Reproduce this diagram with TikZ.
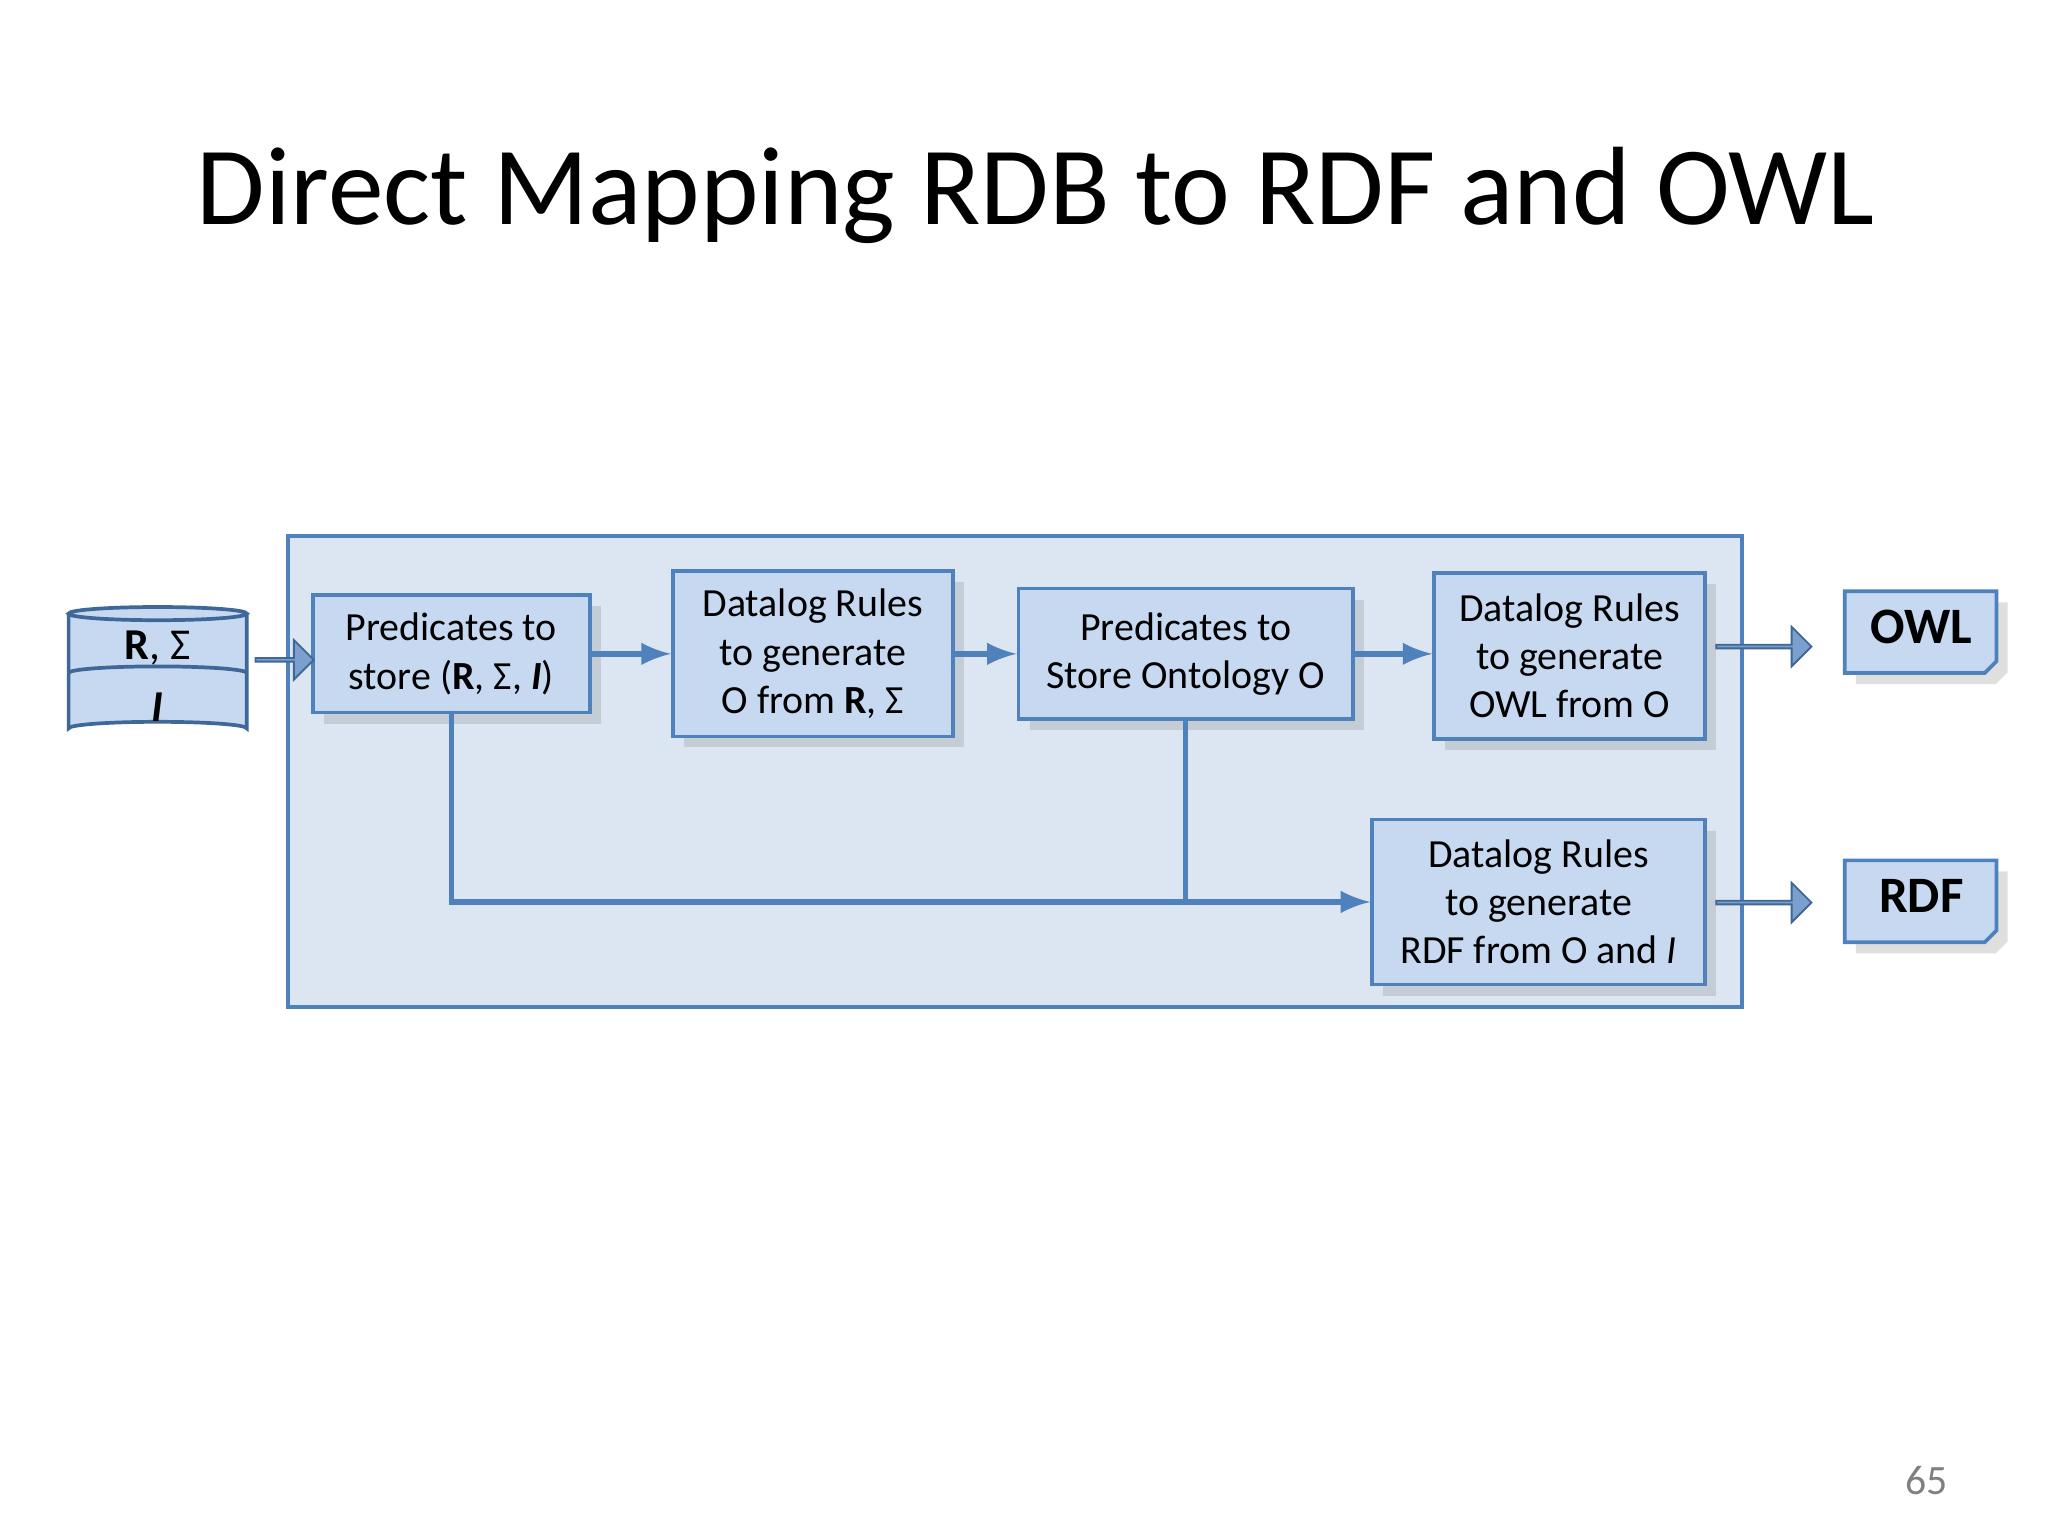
\documentclass[tikz,border=0pt]{standalone}
\usepackage{fontspec}
\setmainfont{Carlito}
\usetikzlibrary{shapes.arrows,shadows}
\definecolor{frame}{HTML}{4F81BD}
\definecolor{boxfill}{HTML}{C6D9F1}
\definecolor{panel}{HTML}{DCE6F2}
\tikzset{
  stage/.style={draw=frame, thick, fill=boxfill, align=center, inner sep=0pt,
    font=\fontsize{8.6}{10.4}\selectfont, drop shadow={opacity=0.25}},
  fat/.style={single arrow, draw=frame!80!black, fill=frame!75, minimum height=#1,
    minimum width=0.3cm, single arrow head extend=0.07cm, inner sep=0pt},
  link/.style={draw=frame, very thick, -latex}
}
\begin{document}
\begin{tikzpicture}[x=0.01cm, y=-0.01cm]
    \useasboundingbox (0,0) rectangle (1552,1164);
    \node[font=\fontsize{24}{29}\selectfont] (title) at (785,148) {Direct Mapping RDB to RDF and OWL};
    % panel
    \draw[frame, thick, fill=panel] (218,406) rectangle (1320,763);
    % database
    \draw[frame!80!black, thick, fill=boxfill] (52,465) -- (52,552) arc[start angle=180, end angle=360, x radius=67.5, y radius=5] -- (187,465);
    \draw[frame!80!black, thick, fill=boxfill] (119.5,465) ellipse[x radius=67.5, y radius=5];
    \draw[frame!80!black, thick] (52,510) arc[start angle=180, end angle=360, x radius=67.5, y radius=5];
    \node[font=\fontsize{9.5}{11}\selectfont] (db) at (119.5,491) {\textbf{R}, Σ};
    \node[font=\fontsize{9.5}{11}\selectfont] (dbI) at (119.5,536) {\textbf{\textit{I}}};
    % stages
    \node[stage, minimum width=2.1cm, minimum height=0.89cm] (pred1) at (342,495.5) {Predicates to\\store (\textbf{R}, Σ, \textbf{\textit{I}})};
    \node[stage, minimum width=2.12cm, minimum height=1.25cm] (rules1) at (616,495.5) {Datalog Rules\\to generate\\O from \textbf{R}, Σ};
    \node[stage, minimum width=2.53cm, minimum height=0.99cm] (pred2) at (898.5,495.5) {Predicates to\\Store Ontology O};
    \node[stage, minimum width=2.05cm, minimum height=1.26cm] (rules2) at (1189.5,497) {Datalog Rules\\to generate\\OWL from O};
    \node[stage, minimum width=2.52cm, minimum height=1.25cm] (rules3) at (1166,683.5) {Datalog Rules\\to generate\\RDF from O and \textit{I}};
    % outputs
    \foreach \name/\txt/\yy in {owl/OWL/479, rdf/RDF/683} {
      \draw[frame, thick, fill=boxfill, drop shadow={opacity=0.25}] (1398,\yy-31) -- (1513,\yy-31) -- (1513,\yy+22) -- (1504,\yy+31) -- (1398,\yy+31) -- cycle;
      \node[font=\bfseries\fontsize{11}{13}\selectfont] (\name) at (1456,\yy-4) {\txt};
    }
    % connectors
    \node[fat=0.44cm] (a1) at (215,500) {};
    \node[fat=0.72cm] (a2) at (1336,490) {};
    \node[fat=0.72cm] (a3) at (1336,684) {};
    \draw[link] (pred1.east) -- (rules1.west |- pred1.east);
    \draw[link] (rules1.east) -- (pred2.west);
    \draw[link] (pred2.east) -- (rules2.west |- pred2.east);
    \coordinate (j) at (pred2.south |- rules3.west);
    \draw[link] (pred1.south) |- (rules3.west);
    \draw[frame, very thick] (pred2.south) -- (j);
    \node[text=gray, font=\fontsize{9}{11}\selectfont] (page) at (1460,1122) {65};
\end{tikzpicture}
\end{document}
